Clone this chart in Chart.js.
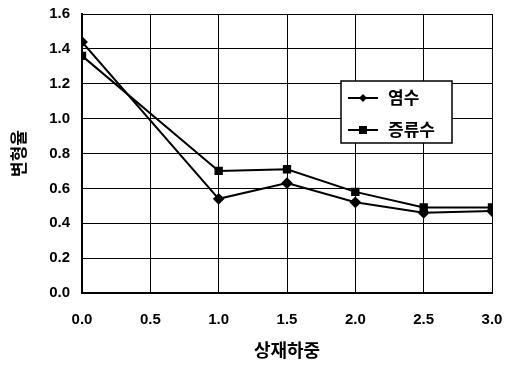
<!DOCTYPE html>
<html><head><meta charset="utf-8">
<script src="https://cdn.jsdelivr.net/npm/chart.js@4.4.1/dist/chart.umd.min.js"></script>
<style>html,body{margin:0;padding:0;background:#fff}#wrap{width:507px;height:366px}</style>
</head><body><div id="wrap"><canvas id="c" width="507" height="366"></canvas></div>
<script>
const xValues = [0, 1.0, 1.5, 2.0, 2.5, 3.0];
const saltWater = [1.44, 0.54, 0.63, 0.52, 0.46, 0.47];
const distilledWater = [1.36, 0.70, 0.71, 0.58, 0.49, 0.49];
const seriesNames = ['염수', '증류수'];
const xTitle = '상재하중';
const yTitle = '변형율';

const pts = (ys) => xValues.map((x, i) => ({x, y: ys[i]}));

const legendBox = {
  id: 'legendBox',
  afterDatasetsDraw(chart) {
    const ctx = chart.ctx, a = chart.chartArea;
    const bx = a.left + 259, by = a.top + 67, bw = 111, bh = 62;
    ctx.save();
    ctx.fillStyle = '#fff';
    ctx.fillRect(bx, by, bw, bh);
    ctx.strokeStyle = '#000';
    ctx.lineWidth = 1.5;
    ctx.strokeRect(bx, by, bw, bh);
    chart.data.datasets.forEach((ds, i) => {
      const cy = by + 17 + i * 32;
      ctx.strokeStyle = '#000';
      ctx.lineWidth = 2;
      ctx.beginPath(); ctx.moveTo(bx + 7, cy); ctx.lineTo(bx + 37, cy); ctx.stroke();
      ctx.fillStyle = '#000';
      const mx = bx + 22;
      if (ds.pointStyle === 'rectRot') {
        ctx.beginPath(); ctx.moveTo(mx, cy - 4); ctx.lineTo(mx + 4, cy); ctx.lineTo(mx, cy + 4); ctx.lineTo(mx - 4, cy); ctx.closePath(); ctx.fill();
      } else {
        ctx.fillRect(mx - 4, cy - 4, 8, 8);
      }
      ctx.font = 'bold 17px "Noto Sans CJK KR"';
      ctx.textBaseline = 'middle';
      ctx.textAlign = 'left';
      ctx.fillText(ds.label, bx + 47, cy);
    });
    ctx.restore();
  }
};

new Chart(document.getElementById('c'), {
  type: 'line',
  data: {
    datasets: [
      {label: seriesNames[0], data: pts(saltWater), borderColor: '#000', backgroundColor: '#000', borderWidth: 2, pointStyle: 'rectRot', pointRadius: 4.5, tension: 0},
      {label: seriesNames[1], data: pts(distilledWater), borderColor: '#000', backgroundColor: '#000', borderWidth: 2, pointStyle: 'rect', pointRadius: 4.5, tension: 0}
    ]
  },
  options: {
    responsive: false,
    animation: false,
    layout: {padding: 0},
    plugins: {legend: {display: false}, tooltip: {enabled: false}},
    scales: {
      x: {
        type: 'linear', min: 0, max: 3, 
        ticks: {stepSize: 0.5, color: '#000', padding: 18, font: {family: '"Liberation Sans"', weight: 'bold', size: 15}, callback: v => v.toFixed(1)},
        grid: {color: '#000', lineWidth: 1, drawTicks: false},
        border: {color: '#000', width: 2},
        title: {display: true, text: xTitle, color: '#000', font: {family: '"Noto Sans CJK KR"', weight: 'bold', size: 18}, padding: {top: 2, bottom: 5}},
        afterFit: s => { s.height = 73; s.paddingRight = 15; s.paddingLeft = 0; }
      },
      y: {
        min: 0, max: 1.6,
        ticks: {stepSize: 0.2, color: '#000', padding: 12, font: {family: '"Liberation Sans"', weight: 'bold', size: 15}, callback: v => v.toFixed(1)},
        grid: {color: '#000', lineWidth: 1, drawTicks: false},
        border: {color: '#000', width: 2},
        title: {display: true, text: yTitle, color: '#000', font: {family: '"Noto Sans CJK KR"', weight: 'bold', size: 17}, padding: {top: 8, bottom: 4}},
        afterFit: s => { s.width = 82; s.paddingTop = 14; s.paddingBottom = 0; }
      }
    }
  },
  plugins: [legendBox]
});
</script>
</body></html>
